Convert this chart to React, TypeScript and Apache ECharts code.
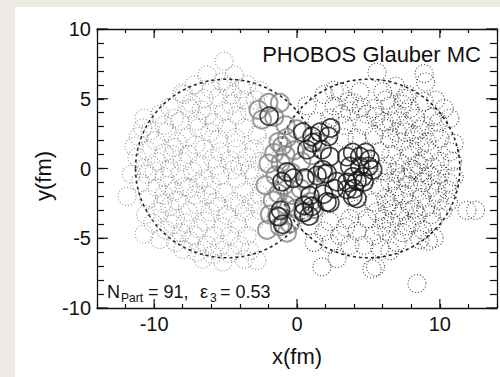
import React, { useEffect, useRef } from 'react';
import * as echarts from 'echarts';

// axis extents and tick values (fm)
const xRange = [-14, 14];
const yRange = [-10, 10];
const xMajorTicks = [-10, 0, 10];
const yMajorTicks = [-10, -5, 0, 5, 10];

// nucleus outlines: [x centre, y centre, radius]
const nuclei: number[][] = [
  [-4.9, 0, 6.4],
  [5.0, 0, 6.4],
];

// left nucleus spectators (light grey dotted)
const spectatorsA: number[][] = [
  [-5.1, 7.7], [-6.3, 6.7], [-5.25, 6.2], [-4.4, 6.7], [-3.5, 6.0], [-7.2, 6.0], [-2.6, 5.6], [-6.0, 5.7],
  [-8.05, 5.4], [-6.5, 5.0], [-5.5, 5.1], [-4.55, 5.3], [-3.7, 4.9], [-7.4, 4.7], [-8.9, 4.4], [-2.9, 4.9], [-4.9, 5.9],
  [-7.5, 4.3], [-8.2, 3.4], [-8.6, 3.6], [-6.3, 3.8], [-5.1, 4.1], [-4.2, 3.8], [-3.3, 4.1], [-10.7, 3.6], [-9.6, 3.9], [-7.0, 3.4], [-9.3, 3.1],
  [-11.1, 2.3], [-10.3, 2.7], [-9.1, 2.6], [-7.7, 2.2], [-6.1, 2.6], [-4.9, 2.9], [-3.7, 2.9], [-2.8, 2.4], [-6.9, 2.9], [-8.4, 1.9], [-5.5, 2.1], [-4.3, 2.2],
  [-9.3, 1.1], [-6.5, 1.4], [-5.4, 1.2], [-4.2, 1.4], [-3.0, 1.4], [-10.5, 1.3], [-7.6, 1.0], [-8.6, 1.5], [-11.2, 0.8], [-2.2, 1.6],
  [-9.8, 0.5], [-8.05, 0.5], [-10.7, 0.0], [-5.6, 0.2], [-4.0, 0.2], [-2.6, 0.5], [-6.8, 0.3], [-4.7, 0.6], [-7.3, -0.2], [-8.9, 0.0], [-3.3, -0.1],
  [-11.0, -1.0], [-10.5, -0.4], [-9.3, -0.6], [-8.2, -0.4], [-7.9, -1.3], [-6.5, -0.7], [-5.4, -0.5], [-4.2, -0.7], [-3.0, -0.5], [-2.4, -1.1], [-6.0, -1.2], [-9.8, -1.4], [-8.6, -1.65], [-7.6, -1.4],
  [-11.9, -2.0], [-10.4, -2.2], [-9.3, -1.9], [-8.4, -2.3], [-7.1, -1.9], [-6.3, -1.9], [-5.1, -1.7], [-3.7, -1.7], [-2.6, -1.9], [-4.4, -2.4],
  [-10.6, -3.3], [-9.8, -3.1], [-9.4, -2.5], [-8.9, -2.7], [-8.5, -3.6], [-7.6, -3.1], [-7.0, -2.6], [-6.1, -3.1], [-4.9, -3.35], [-3.7, -3.1], [-5.5, -2.7], [-2.6, -3.0],
  [-10.7, -4.7], [-9.2, -4.4], [-8.1, -4.6], [-8.7, -4.0], [-7.8, -3.9], [-6.9, -4.3], [-5.8, -4.8], [-4.7, -4.8], [-3.5, -4.8], [-6.4, -3.8], [-4.2, -4.0], [-3.0, -3.8],
  [-7.5, -5.2], [-6.3, -5.5], [-5.4, -5.6], [-4.0, -5.5], [-4.7, -6.1], [-2.8, -6.6], [-5.9, -6.2], [-3.3, -5.9], [-8.5, -5.3], [-7.0, -6.0],
  [-9.9, 2.0], [-7.9, 5.3], [-6.7, 4.2], [-5.8, 3.3], [-4.6, 4.6], [-3.9, 5.7], [-10.0, -0.2], [-8.7, 1.0], [-7.1, 1.7], [-5.9, 0.7],
  [-4.5, -0.1], [-3.5, 0.8], [-9.0, -1.2], [-6.9, -1.1], [-5.7, -2.4], [-4.0, -2.6], [-3.1, -2.4], [-10.1, -3.9], [-9.6, -5.1], [-8.0, -5.8],
  [-6.6, -6.5], [-5.2, -6.7], [-3.7, -6.5], [-7.2, -4.8], [-5.2, -4.2], [-11.6, -0.4], [-11.4, 1.6], [-10.8, 2.9],
];

// right nucleus spectators (dark dotted)
const spectatorsB: number[][] = [
  [5.6, 6.9], [8.9, 6.8], [9.0, 6.2],
  [1.9, 5.3], [3.0, 5.5], [4.4, 5.5], [6.0, 5.5], [7.5, 5.0], [6.9, 5.9], [7.7, 5.3], [9.7, 4.9],
  [0.7, 4.5], [2.6, 4.5], [3.7, 4.1], [5.4, 4.3], [6.5, 4.5], [7.9, 4.3], [8.9, 4.8], [10.3, 4.3], [9.5, 3.7], [4.0, 4.7], [3.6, 4.8], [6.2, 4.9], [2.6, 5.6],
  [1.4, 3.35], [3.3, 3.1], [4.7, 3.1], [6.1, 3.35], [7.5, 3.1], [8.9, 3.1], [10.7, 3.6], [2.3, 3.6], [5.5, 3.7], [7.0, 3.9], [8.3, 3.6], [3.1, 3.9], [4.9, 3.9],
  [4.2, 2.15], [5.4, 2.4], [6.5, 2.15], [8.2, 2.4], [9.6, 2.6], [10.0, 2.15], [7.3, 1.9], [3.3, 2.2], [7.6, 2.6], [6.1, 2.9], [9.1, 1.9], [2.0, 2.6],
  [5.8, 1.2], [7.9, 0.95], [9.3, 1.2], [10.7, 1.2], [6.6, 1.0], [8.6, 1.6], [7.2, 0.4], [6.3, 0.2], [10.0, 0.5], [8.5, 0.3], [7.9, 1.4], [8.9, 0.6], [10.9, 0.5],
  [10.0, -0.4], [7.7, -0.7], [9.3, -0.5], [5.1, -0.5], [6.5, -0.95], [8.6, -0.3], [11.0, -0.6], [6.0, -0.2], [9.8, -0.9], [8.1, -0.1], [7.3, -0.6], [10.6, -1.0],
  [8.4, -1.4], [7.5, -1.9], [9.3, -1.4], [5.8, -1.4], [6.2, -2.15], [10.5, -1.5], [9.9, -2.3], [7.0, -1.3], [6.8, -2.0], [8.7, -2.1],
  [7.9, -2.6], [5.4, -2.4], [6.3, -2.6], [4.2, -2.9], [9.0, -2.8], [11.9, -3.0], [12.5, -3.0], [10.2, -3.0], [7.5, -3.0],
  [8.4, -3.35], [2.3, -3.8], [3.7, -3.6], [4.9, -3.6], [6.1, -3.6], [7.2, -3.4], [9.5, -3.8], [6.6, -3.9], [8.0, -3.9],
  [7.7, -4.1], [0.9, -4.1], [1.9, -4.5], [3.0, -4.8], [4.2, -4.5], [5.4, -4.8], [6.3, -4.5], [8.6, -5.1], [9.6, -5.0], [9.2, -5.2],
  [3.7, -5.5], [4.7, -5.5], [5.8, -5.7], [2.8, -6.45], [1.75, -7.05], [5.25, -7.2], [5.5, -7.05], [8.4, -8.25], [7.0, -5.3],
  [7.0, 2.6], [8.6, 2.8], [9.9, 3.3], [7.4, 4.6], [6.6, 3.4], [8.0, 0.0], [9.5, 0.1], [6.9, -0.3], [8.8, -1.0], [7.8, -1.2],
  [9.8, -1.7], [8.2, -2.9], [9.4, -3.3], [6.7, -2.9], [5.6, -3.1], [7.4, -4.6], [8.8, -4.4], [10.6, -2.4], [11.0, 1.8], [4.5, 4.4],
  [3.4, -4.2], [5.9, -4.2], [1.2, -5.3], [2.3, -5.4], [6.5, -5.9],
];

// left nucleus participants (grey solid)
const participantsA: number[][] = [
  [-2.7, 4.2], [-2.0, 4.7], [-1.2, 4.7], [-2.45, 3.5], [-1.6, 3.7], [-0.8, 3.1], [-1.3, 1.9], [-0.7, 2.2],
  [-1.6, 1.1], [-0.8, 0.95], [-2.0, 0.35], [-1.15, 0.4], [-1.05, 1.6], [-0.4, -0.3], [-1.5, -0.5], [-0.9, -1.2],
  [-1.3, -1.8], [-0.3, -1.9], [-1.7, -2.3], [-0.8, -2.6], [-2.1, -4.4], [-1.2, -4.15], [-0.5, -3.95], [-0.7, -4.6],
  [-1.4, -3.4], [0.95, -2.4], [1.2, -2.9], [0.5, -3.1], [1.9, -0.4], [0.25, -1.45], [1.4, 1.9], [1.05, 0.95],
  [0.3, 0.5], [0.0, 2.8], [-2.2, -1.2], [-0.2, 1.3], [-1.9, -3.3], [-0.1, -2.9], [0.6, -0.8],
];

// right nucleus participants (black solid)
const participantsB: number[][] = [
  [0.4, 2.6], [1.05, 2.3], [1.6, 2.6], [2.2, 2.3], [1.1, 1.85], [0.7, 1.35], [1.75, 1.35], [2.3, 0.85],
  [1.8, -0.1], [3.5, 0.85], [3.9, 1.15], [4.4, 0.85], [4.8, 1.15], [5.1, 0.65], [3.7, 0.15], [4.4, 0.15],
  [5.0, 0.15], [5.3, -0.1], [3.9, -0.6], [4.6, -0.6], [3.5, -1.0], [4.2, -0.9], [-1.0, -4.0], [-1.3, -3.45],
  [0.45, -3.15], [1.05, -2.7], [2.3, -2.45], [1.85, -1.85], [3.9, -2.0], [3.5, -1.5], [0.55, -0.7], [1.4, -0.5],
  [2.1, -0.35], [2.8, -0.95], [4.0, -1.45], [4.7, -0.95], [4.2, -2.15], [2.6, -1.45], [0.9, -1.95], [0.5, -2.65],
  [0.85, -3.4], [2.1, -2.4], [2.35, 2.9], [-1.95, 3.75], [-0.7, -0.25], [-0.25, -0.7], [-1.05, -0.95], [-1.15, -3.0],
];

const titleText = 'PHOBOS Glauber MC';
const xName = 'x(fm)';
const yName = 'y(fm)';

const FONT = '"Liberation Sans", Arial, Helvetica, sans-serif';
const INK = '#111111';

export default function App() {
  const ref = useRef<HTMLDivElement>(null);

  useEffect(() => {
    if (!ref.current) return;
    const chart = echarts.init(ref.current, undefined, { renderer: 'svg' });

    const baseX = (position: 'bottom' | 'top', labels: boolean) => ({
      type: 'value',
      position,
      min: xRange[0],
      max: xRange[1],
      interval: 2,
      axisLine: { show: true, onZero: false, lineStyle: { color: INK, width: 1.3 } },
      axisTick: { show: true, inside: true, length: 4, lineStyle: { color: INK, width: 1.2 } },
      axisLabel: {
        show: labels,
        margin: 6,
        fontSize: 20,
        color: INK,
        fontFamily: FONT,
        formatter: (v: number) => (xMajorTicks.indexOf(Math.round(v)) >= 0 ? String(Math.round(v)) : ''),
      },
      splitLine: { show: false },
    });
    const baseY = (position: 'left' | 'right', labels: boolean) => ({
      type: 'value',
      position,
      min: yRange[0],
      max: yRange[1],
      interval: 1,
      axisLine: { show: true, onZero: false, lineStyle: { color: INK, width: 1.3 } },
      axisTick: { show: true, inside: true, length: 7, lineStyle: { color: INK, width: 1.2 } },
      axisLabel: {
        show: labels,
        margin: 6,
        fontSize: 20,
        color: INK,
        fontFamily: FONT,
        padding: [4, 0, 0, 0],
        formatter: (v: number) => (yMajorTicks.indexOf(Math.round(v)) >= 0 ? String(Math.round(v)) : ''),
      },
      splitLine: { show: false },
    });

    const circleStyle = (color: string, width: number, dash: any) => ({
      color: 'rgba(0,0,0,0)',
      borderColor: color,
      borderWidth: width,
      borderType: dash,
    });

    const option: any = {
      animation: false,
      backgroundColor: 'transparent',
      grid: { left: 97, right: 3, top: 29, bottom: 69, containLabel: false },
      xAxis: [baseX('bottom', true), baseX('top', false)],
      yAxis: [baseY('left', true), baseY('right', false)],
      series: [
        {
          type: 'scatter',
          data: spectatorsA,
          symbol: 'circle',
          symbolSize: 18,
          silent: true,
          itemStyle: circleStyle('#7a7a7a', 1.1, [1, 2]),
        },
        {
          type: 'scatter',
          data: spectatorsB,
          symbol: 'circle',
          symbolSize: 18,
          silent: true,
          itemStyle: circleStyle('#1a1a1a', 1.1, [1, 2]),
        },
        {
          type: 'custom',
          data: nuclei,
          silent: true,
          renderItem: (_p: any, api: any) => {
            const c = api.coord([api.value(0), api.value(1)]);
            const s = api.size([api.value(2), api.value(2)]);
            return {
              type: 'ellipse',
              shape: { cx: c[0], cy: c[1], rx: s[0], ry: s[1] },
              style: { fill: 'none', stroke: '#222222', lineWidth: 1.6, lineDash: [3, 3] },
            };
          },
        },
        {
          type: 'scatter',
          data: participantsA,
          symbol: 'circle',
          symbolSize: 18,
          silent: true,
          itemStyle: circleStyle('#858585', 2, 'solid'),
        },
        {
          type: 'scatter',
          data: participantsB,
          symbol: 'circle',
          symbolSize: 18,
          silent: true,
          itemStyle: circleStyle('#141414', 1.7, 'solid'),
        },
        {
          type: 'custom',
          data: xMajorTicks.map((v) => [v, 0]),
          silent: true,
          renderItem: (_p: any, api: any) => {
            const x = api.value(0);
            const b = api.coord([x, yRange[0]]);
            const t = api.coord([x, yRange[1]]);
            const st = { stroke: INK, lineWidth: 1.2 };
            return {
              type: 'group',
              children: [
                { type: 'line', shape: { x1: b[0], y1: b[1], x2: b[0], y2: b[1] - 9 }, style: st },
                { type: 'line', shape: { x1: t[0], y1: t[1], x2: t[0], y2: t[1] + 9 }, style: st },
              ],
            };
          },
        },
        {
          type: 'custom',
          data: yMajorTicks.map((v) => [0, v]),
          silent: true,
          renderItem: (_p: any, api: any) => {
            const y = api.value(1);
            const l = api.coord([xRange[0], y]);
            const r = api.coord([xRange[1], y]);
            const st = { stroke: INK, lineWidth: 1.2 };
            return {
              type: 'group',
              children: [
                { type: 'line', shape: { x1: l[0], y1: l[1], x2: l[0] + 11, y2: l[1] }, style: st },
                { type: 'line', shape: { x1: r[0], y1: r[1], x2: r[0] - 11, y2: r[1] }, style: st },
              ],
            };
          },
        },
      ],
      graphic: [
        {
          type: 'text',
          x: 481,
          y: 54,
          style: { text: titleText, fill: INK, font: `22px ${FONT}`, textAlign: 'right', textVerticalAlign: 'middle' },
        },
        {
          type: 'text',
          x: 297,
          y: 356,
          style: { text: xName, fill: INK, font: `22px ${FONT}`, textAlign: 'center', textVerticalAlign: 'middle' },
        },
        {
          type: 'text',
          x: 43,
          y: 176,
          rotation: Math.PI / 2,
          style: { text: yName, fill: INK, font: `22px ${FONT}`, textAlign: 'center', textVerticalAlign: 'middle' },
        },
        { type: 'text', x: 107, y: 292, style: { text: 'N', fill: INK, font: `18px ${FONT}`, textVerticalAlign: 'middle' } },
        { type: 'text', x: 121, y: 298, style: { text: 'Part', fill: INK, font: `12px ${FONT}`, textVerticalAlign: 'middle' } },
        { type: 'text', x: 148, y: 292, style: { text: '= 91,', fill: INK, font: `18px ${FONT}`, textVerticalAlign: 'middle' } },
        { type: 'text', x: 200, y: 292, style: { text: 'ε', fill: INK, font: `18px ${FONT}`, textVerticalAlign: 'middle' } },
        { type: 'text', x: 210, y: 298, style: { text: '3', fill: INK, font: `12px ${FONT}`, textVerticalAlign: 'middle' } },
        { type: 'text', x: 220, y: 292, style: { text: '= 0.53', fill: INK, font: `18px ${FONT}`, textVerticalAlign: 'middle' } },
      ],
    };

    chart.setOption(option);
    return () => chart.dispose();
  }, []);

  return (
    <div style={{ position: 'fixed', left: 0, top: 0, width: 500, height: 377, background: '#edeae3', overflow: 'hidden' }}>
      <div style={{ position: 'absolute', left: 15, top: 7, width: 485, height: 370, background: '#ffffff' }} />
      <div ref={ref} style={{ position: 'absolute', left: 0, top: 0, width: 500, height: 377 }} />
    </div>
  );
}
